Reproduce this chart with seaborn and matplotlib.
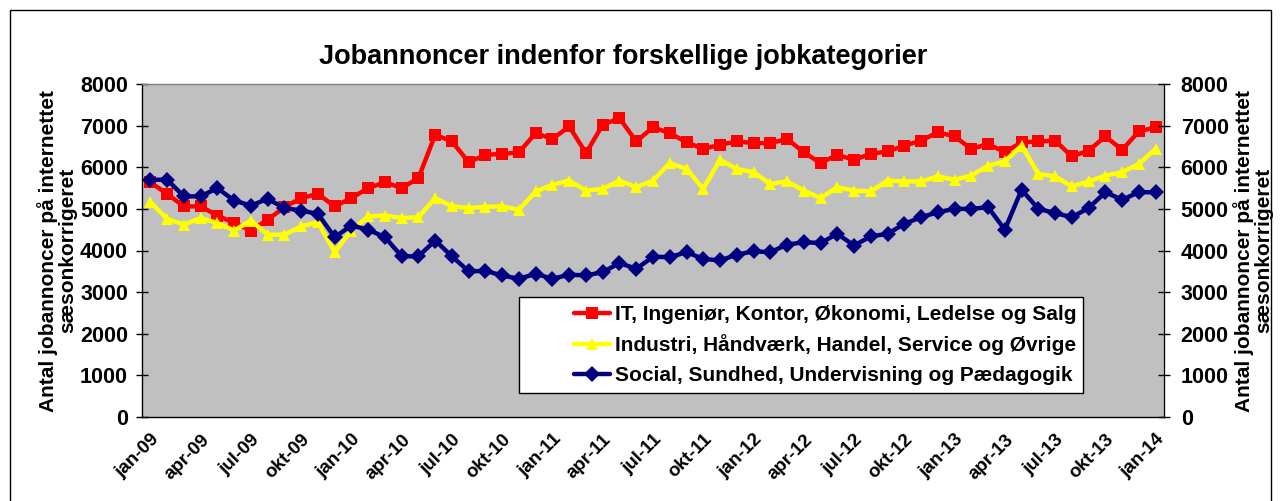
import numpy as np
import pandas as pd
import matplotlib
matplotlib.use('Agg')
import matplotlib.pyplot as plt
import seaborn as sns
from matplotlib.patches import Rectangle

# Data (monthly, jan-09 .. jan-14)
months = ['jan', 'feb', 'mar', 'apr', 'maj', 'jun', 'jul', 'aug', 'sep', 'okt', 'nov', 'dec']
month_labels = [f'{months[i % 12]}-{9 + i // 12:02d}' for i in range(61)]

it_salg = [5640, 5360, 5060, 5060, 4840, 4660, 4480, 4740, 5040, 5260,
           5360, 5060, 5260, 5500, 5640, 5500, 5740, 6780, 6620, 6120, 6300,
           6320, 6360, 6820, 6680, 6980, 6340, 7020, 7180, 6620, 6960,
           6820, 6600, 6440, 6540, 6620, 6580, 6580, 6680, 6360, 6100,
           6300, 6180, 6320, 6380, 6520, 6640, 6840, 6740, 6440, 6560,
           6360, 6600, 6620, 6640, 6260, 6400, 6740, 6420, 6860, 6960]

industri = [5160, 4760, 4620, 4780, 4660, 4480, 4720, 4380, 4380, 4580,
            4680, 3960, 4480, 4820, 4840, 4780, 4800, 5260, 5060, 5020, 5050,
            5060, 4980, 5420, 5580, 5680, 5440, 5480, 5680, 5520, 5680,
            6100, 5960, 5480, 6180, 5960, 5880, 5600, 5660, 5440, 5260,
            5520, 5440, 5420, 5680, 5660, 5660, 5780, 5700, 5800, 6040,
            6140, 6520, 5840, 5780, 5540, 5660, 5800, 5880, 6080, 6440]

social = [5700, 5700, 5300, 5300, 5500, 5200, 5080, 5240, 5020, 4960,
          4880, 4320, 4600, 4500, 4320, 3860, 3860, 4240, 3860, 3500, 3510,
          3400, 3320, 3440, 3320, 3420, 3400, 3480, 3700, 3560, 3850,
          3840, 3960, 3800, 3760, 3900, 3980, 3960, 4140, 4200, 4180,
          4400, 4120, 4340, 4400, 4640, 4800, 4920, 5000, 5000, 5040,
          4500, 5460, 5000, 4900, 4800, 5020, 5400, 5220, 5400, 5400]

series_names = ['IT, Ingeniør, Kontor, Økonomi, Ledelse og Salg',
                'Industri, Håndværk, Handel, Service og Øvrige',
                'Social, Sundhed, Undervisning og Pædagogik']

frames = []
for name, vals in zip(series_names, [it_salg, industri, social]):
    frames.append(pd.DataFrame({'idx': np.arange(len(vals)), 'Antal': vals, 'Kategori': name}))
df = pd.concat(frames, ignore_index=True)

sns.set_style('white')
plt.rcParams['font.family'] = ['Liberation Sans', 'DejaVu Sans']
plt.rcParams['font.weight'] = 'bold'
for key in ['text.color', 'axes.labelcolor', 'xtick.color', 'ytick.color']:
    plt.rcParams[key] = 'black'

fig = plt.figure(figsize=(12.82, 5.01), dpi=100)
ax = fig.add_axes([142 / 1282, 1 - 417 / 501, 1022 / 1282, 333 / 501])
ax.set_facecolor('#C0C0C0')

palette = {series_names[0]: '#FF0000', series_names[1]: '#FFFF00', series_names[2]: '#000080'}
markers = {series_names[0]: 's', series_names[1]: '^', series_names[2]: 'D'}

sns.lineplot(data=df, x='idx', y='Antal', hue='Kategori', style='Kategori',
             palette=palette, markers=markers, dashes=False, linewidth=3.2,
             markersize=8.5, markeredgewidth=0, ax=ax, legend=False)

ax.set_xlim(-0.5, 60.5)
ax.set_ylim(0, 8000)
ax.set_yticks(range(0, 8001, 1000))
ax.tick_params(axis='y', direction='inout', length=8, width=1, labelsize=15.5, pad=6)
ax.set_xticks(range(0, 61, 3))
ax.set_xticklabels(month_labels[::3], rotation=45, ha='right', rotation_mode='anchor', fontsize=13.5)
ax.tick_params(axis='x', length=0, pad=10)
ax.set_xticks(np.arange(-0.5, 61, 1), minor=True)
ax.tick_params(axis='x', which='minor', direction='inout', length=8, width=1)
ax.set_xlabel('')
ax.set_ylabel('Antal jobannoncer på internettet\nsæsonkorrigeret', fontsize=15, fontweight='bold',
              labelpad=2, linespacing=1.0)
for s in ['left', 'bottom']:
    ax.spines[s].set_color('black')
    ax.spines[s].set_linewidth(1)
for s in ['top', 'right']:
    ax.spines[s].set_color('#808080')
    ax.spines[s].set_linewidth(1)

ax2 = ax.twinx()
ax2.set_ylim(0, 8000)
ax2.set_yticks(range(0, 8001, 1000))
ax2.tick_params(axis='y', direction='inout', length=8, width=1, labelsize=15.5, pad=8)
ax2.set_ylabel('Antal jobannoncer på internettet\nsæsonkorrigeret', fontsize=15, fontweight='bold',
               rotation=90, labelpad=3, linespacing=1.0)
ax2.spines['right'].set_color('black')
for s in ['top', 'left', 'bottom']:
    ax2.spines[s].set_visible(False)

# legend box drawn separately (Excel style wide left padding)
x0, x1 = (519 - 142) / 1022, (1083 - 142) / 1022
y0, y1 = (417 - 393) / 333, (417 - 297) / 333
ax2.add_patch(Rectangle((x0, y0), x1 - x0, y1 - y0, transform=ax.transAxes,
                        facecolor='white', edgecolor='black', linewidth=1, zorder=5))
handles = ax.get_lines()[:3]
leg = ax2.legend(handles, series_names, loc='center left',
                 bbox_to_anchor=((574 - 142) / 1022, (y0 + y1) / 2),
                 frameon=False, prop={'size': 15, 'weight': 'bold'}, handlelength=1.75,
                 labelspacing=0.5, borderpad=0, borderaxespad=0, handletextpad=0.2)
leg.set_zorder(6)

fig.text(623 / 1282, 1 - 57 / 501, 'Jobannoncer indenfor forskellige jobkategorier',
         ha='center', va='center', fontsize=19.5, fontweight='bold')

fig.patches.append(Rectangle((10 / 1282, -0.02), 1261 / 1282, 1 - 10 / 501 + 0.02,
                             transform=fig.transFigure, fill=False, edgecolor='black', linewidth=1))

fig.savefig('out.png', dpi=100, facecolor='white')
